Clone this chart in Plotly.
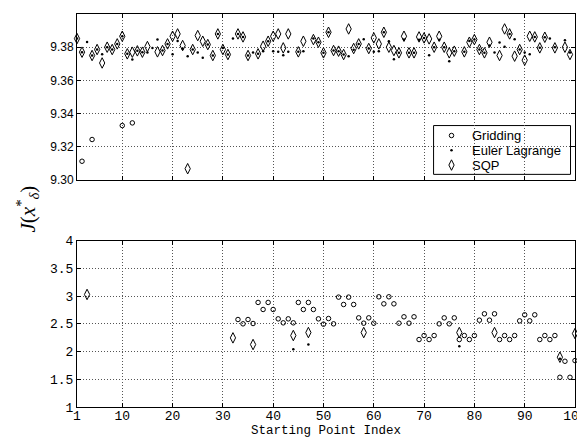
import plotly.graph_objects as go

N = None
index = list(range(1, 101))

sqp = [9.3852, 9.3770, 3.03, 9.3750, 9.3786, 9.3705, 9.3800, 9.3786, 9.3820, 9.3866,
       9.3760, 9.3770, 9.3778, 9.3770, 9.3804, N, 9.3772, 9.3780, 9.3820, 9.3866,
       9.3880, 9.3810, 9.3068, 9.3786, 9.3870, 9.3836, 9.3816, 9.3750, 9.3880, 9.3786,
       9.3756, 2.247, 9.3880, 9.3862, 9.3750, 2.127, 9.3760, 9.3806, 9.3836, 9.3866,
       9.3880, 9.3796, 9.3880, 2.289, 9.3772, 9.3836, 2.343, 9.3846, 9.3830, 9.3766,
       9.3890, 9.3780, 9.3776, 9.3756, 9.3910, 9.3792, 9.3820, 2.343, 9.3792, 9.3856,
       9.3820, 9.3890, 9.3800, 9.3780, 9.3766, 9.3866, 9.3766, 9.3766, 9.3862, 9.3856,
       9.3850, 9.3800, 9.3866, 9.3800, 9.3766, 9.3776, 2.343, 9.3772, 9.3830, 9.3846,
       9.3786, 9.3766, 9.3830, 2.343, 9.3750, 9.3910, 9.3880, 9.3746, 9.3786, 9.3722,
       9.3866, 9.3862, 9.3796, 9.3860, N, 9.3796, 1.898, 9.3800, 9.3756, 2.325]

euler = [9.3852, 9.3770, 9.3832, 9.3750, 9.3786, 9.3758, 9.3800, 9.3786, 9.3820, 9.3866,
         9.3760, 9.3726, 9.3778, 9.3770, 9.3768, 9.3795, 9.3846, 9.3780, 9.3820, 9.3758,
         9.3838, 9.3790, 9.3746, 9.3786, 9.3768, 9.3736, 9.3816, 9.3750, 9.3880, 9.3795,
         9.3756, 9.3852, 9.3880, 9.3862, 9.3750, 9.3768, 9.3760, 9.3776, 9.3836, 9.3776,
         9.3772, 9.3752, 9.3772, 2.040, 9.3772, 9.3776, 2.127, 9.3852, 9.3830, 9.3766,
         9.3890, 9.3780, 9.3776, 9.3756, 9.3746, 9.3785, 9.3820, 9.3848, 9.3792, 9.3772,
         9.3776, 9.3890, 9.3836, 9.3728, 9.3766, 9.3846, 9.3766, 9.3766, 9.3845, 9.3856,
         9.3752, 9.3800, 9.3845, 9.3800, 9.3716, 9.3776, 2.096, 9.3772, 9.3838, 9.3846,
         9.3786, 9.3766, 9.3810, 9.3768, 9.3828, 9.3802, 9.3880, 9.3848, 9.3786, 9.3768,
         9.3758, 9.3862, 9.3796, 9.3860, 9.3852, 9.3800, 1.870, 9.3842, 9.3768, N]

gridding = [N, 9.3113, N, 9.3244, N, N, N, N, N, 9.3328,
            N, 9.3344, N, N, N, N, N, N, N, N,
            N, N, N, N, N, N, N, N, N, N,
            N, N, 2.578, 2.500, 2.578, 2.506, 2.886, 2.759, 2.886, 2.759,
            2.590, 2.518, 2.590, 2.518, 2.886, 2.759, 2.886, 2.759, 2.590, 2.494,
            2.596, 2.500, 2.982, 2.849, 2.982, 2.849, 2.608, 2.512, 2.608, 2.512,
            2.988, 2.861, 2.988, 2.861, 2.512, 2.627, 2.512, 2.627, 2.217, 2.289,
            2.217, 2.289, 2.500, 2.608, 2.500, 2.608, 2.217, 2.289, 2.217, 2.289,
            2.566, 2.681, 2.566, 2.681, 2.217, 2.289, 2.217, 2.289, 2.554, 2.663,
            2.554, 2.663, 2.217, 2.289, 2.217, 2.289, 1.536, 1.825, 1.536, 1.837]

series_names = ["Gridding", "Euler Lagrange", "SQP"]
x_ticks = [1, 10, 20, 30, 40, 50, 60, 70, 80, 90, 100]
top_ticks = [9.30, 9.32, 9.34, 9.36, 9.38, 9.40]
top_labels = ["9.30", "9.32", "9.34", "9.36", "9.38", "9.40"]
bot_ticks = [1, 1.5, 2, 2.5, 3, 3.5, 4]
bot_labels = ["1", "1.5", "2", "2.5", "3", "3.5", "4"]

BREAK = 5.0
MONO = "Liberation Mono, Courier New, monospace"
SANS = "Liberation Sans, Arial, Helvetica, sans-serif"


def split(vals, upper):
    xs, ys = [], []
    for i, v in zip(index, vals):
        if v is None:
            continue
        if (v > BREAK) == upper:
            xs.append(i)
            ys.append(v)
    return xs, ys


markers = [
    dict(symbol="circle-open", size=4.5, color="black", line=dict(width=1, color="black")),
    dict(symbol="circle", size=2.5, color="black", line=dict(width=0)),
    dict(symbol="diamond-tall-open", size=7.5, color="black", line=dict(width=1, color="black")),
]

fig = go.Figure()
for name, vals, mk in zip(series_names, [gridding, euler, sqp], markers):
    xt, yt = split(vals, True)
    fig.add_trace(go.Scatter(x=xt, y=yt, mode="markers", name=name, marker=mk,
                             xaxis="x", yaxis="y", showlegend=False, cliponaxis=False))
    xb, yb = split(vals, False)
    fig.add_trace(go.Scatter(x=xb, y=yb, mode="markers", name=name, marker=mk,
                             xaxis="x2", yaxis="y2", showlegend=False, cliponaxis=False))

# manual legend drawn on a unit overlay axis of the top panel
leg_x = 0.752
leg_y = [0.268, 0.179, 0.090]
for name, mk, ly in zip(series_names, markers, leg_y):
    fig.add_trace(go.Scatter(x=[leg_x], y=[ly], mode="markers", marker=mk,
                             xaxis="x3", yaxis="y3", showlegend=False, hoverinfo="skip"))
    fig.add_annotation(text=name, xref="x3", yref="y3", x=0.79, y=ly,
                       xanchor="left", yanchor="middle", showarrow=False,
                       font=dict(family=SANS, size=13, color="black"))

fig.add_shape(type="rect", xref="x3", yref="y3", x0=0.716, x1=0.991, y0=0.034, y1=0.328,
              line=dict(color="black", width=1), fillcolor="white", layer="below")

axis_common = dict(showline=True, linecolor="black", linewidth=1, mirror="ticks",
                   ticks="inside", ticklen=4, tickcolor="black", tickwidth=1,
                   showgrid=True, gridcolor="#555555", griddash="1px,2px", gridwidth=1,
                   zeroline=False, automargin=False)

top_dom = [0.5776, 1.0]
bot_dom = [0.0, 0.4232]

# page body has an 8px default margin: size/margins compensate for it
fig.update_layout(
    width=577, height=429,
    margin=dict(l=69, r=10, t=6, b=30),
    paper_bgcolor="white", plot_bgcolor="white",
    showlegend=False,
    xaxis=dict(range=[1, 100], tickvals=x_ticks, showticklabels=False, domain=[0, 1],
               anchor="y", **axis_common),
    yaxis=dict(range=[9.30, 9.40], tickvals=top_ticks, ticktext=top_labels, domain=top_dom,
               anchor="x", tickfont=dict(family=SANS, size=12, color="black"), **axis_common),
    xaxis2=dict(range=[1, 100], tickvals=x_ticks, ticktext=[str(t) for t in x_ticks],
                domain=[0, 1], anchor="y2", ticklabeloverflow="allow", ticklabelstandoff=-4,
                tickfont=dict(family=MONO, size=13, color="black"), **axis_common),
    yaxis2=dict(range=[1, 4], tickvals=bot_ticks, ticktext=bot_labels, domain=bot_dom,
                anchor="x2", tickfont=dict(family=MONO, size=13, color="black"), **axis_common),
    xaxis3=dict(range=[0, 1], domain=[0, 1], anchor="y3", visible=False, fixedrange=True,
                overlaying="x"),
    yaxis3=dict(range=[0, 1], domain=top_dom, anchor="x3", visible=False, fixedrange=True,
                overlaying="y"),
)

fig.add_annotation(text="Starting Point Index", xref="paper", yref="paper",
                   x=0.5, y=-0.0605, xanchor="center", yanchor="middle", showarrow=False,
                   font=dict(family=MONO, size=12.5, color="black"))

fig.add_annotation(text="<i>J</i>(<i>x</i><sup>*</sup><sub><i>δ</i></sub>)",
                   xref="paper", yref="paper", x=-0.1, y=0.503, textangle=-90,
                   showarrow=False, xanchor="center", yanchor="middle",
                   font=dict(family="Liberation Serif, DejaVu Serif, serif", size=21, color="black"))

fig.write_html("out.html")
